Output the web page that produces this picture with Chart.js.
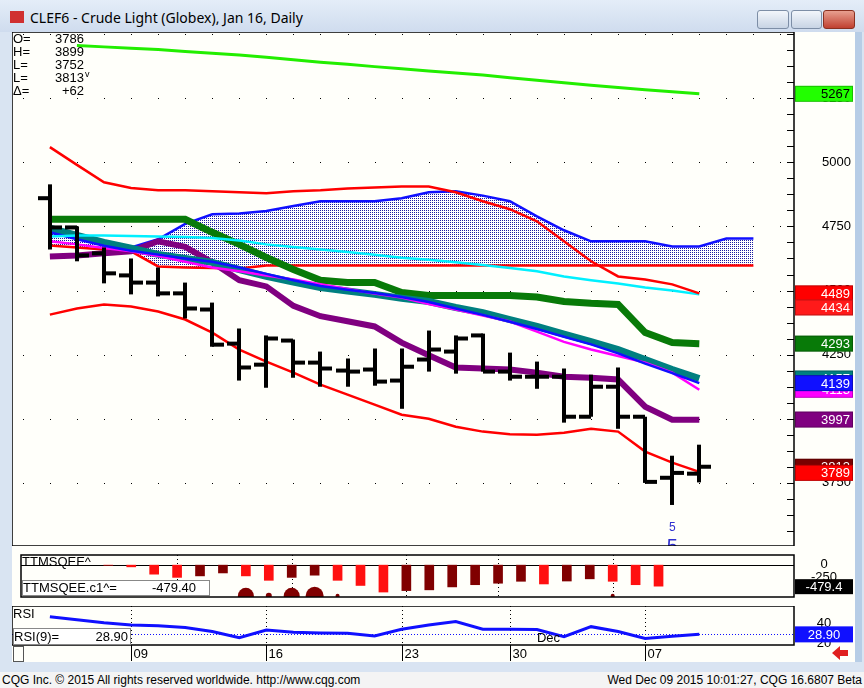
<!DOCTYPE html>
<html>
<head>
<meta charset="utf-8">
<script src="https://cdn.jsdelivr.net/npm/chart.js@4.4.0/dist/chart.umd.min.js"></script>
<style>
  body { margin:0; width:864px; height:688px; overflow:hidden; background:#d9e4f2; position:relative; font-family:"Liberation Sans", Arial, sans-serif; }
  #title { position:absolute; left:0; top:0; width:864px; height:32px; background:linear-gradient(#e4edf8,#cfdcee); }
  #title span { position:absolute; left:30px; top:8px; font:14px "Noto Sans", sans-serif; color:#000; }
  #icon { position:absolute; left:10px; top:11px; width:14px; height:12px; background:#d03030; }
  .btn { position:absolute; top:10px; height:17px; border:1px solid #7d8ea6; border-radius:3px; background:linear-gradient(#f2f6fb,#c8d4e4); }
  #close { background:linear-gradient(#e8a090,#c04030); border-color:#8a3020; }
  .panel { position:absolute; left:12px; background:#fffffa; }
  #scroll { position:absolute; left:855px; top:32px; width:7px; height:630px; background:#b7cde6; }
  #footer { position:absolute; left:0; top:672px; width:864px; height:16px; background:#f4f4f4; font:12px "Liberation Sans", Arial, sans-serif; }
  #footer .l { position:absolute; left:2px; top:1px; }
  #footer .r { position:absolute; right:2px; top:1px; }
</style>
</head>
<body>
<div id="title"><div id="icon"></div><span>CLEF6 - Crude Light (Globex), Jan 16, Daily</span>
  <div class="btn" style="left:757px;width:30px"></div>
  <div class="btn" style="left:791px;width:29px"></div>
  <div class="btn" id="close" style="left:823px;width:30px"></div>
</div>
<div class="panel" style="top:32px;width:843px;height:514px"><canvas id="mainChart"></canvas></div>
<div class="panel" style="top:546px;width:843px;height:60px"><canvas id="sqzChart"></canvas></div>
<div class="panel" style="top:606px;width:843px;height:56px"><canvas id="rsiChart"></canvas></div>
<div id="scroll"></div>
<div id="footer"><span class="l">CQG Inc. © 2015 All rights reserved worldwide. http://www.cqg.com</span><span class="r">Wed Dec 09 2015 10:01:27, CQG 16.6807 Beta</span></div>
<script>
// OHLC bars, Nov 4 - Dec 9
const opens  = [4860,4746,4645,4559,4531,4489,4426,4293,4211,4305,4219,4188,4192,4149,4231,4262,4325,4184,4164,4164,4008,4125,4008,3770,3786];
const highs  = [4914,4750,4668,4625,4590,4531,4453,4352,4325,4309,4262,4235,4274,4274,4344,4325,4332,4258,4223,4196,4172,4200,4008,3856,3899];
const lows   = [4660,4614,4528,4485,4477,4391,4281,4149,4121,4160,4125,4125,4129,4039,4184,4176,4184,4149,4117,3985,4008,3961,3750,3664,3752];
const closes = [4746,4637,4567,4531,4489,4430,4289,4200,4313,4219,4196,4184,4145,4203,4270,4313,4184,4164,4164,4008,4125,4008,3754,3789,3813];

const dateLabels = ['09','16','23','30','07'];
const dateIdx    = [3, 8, 13, 17, 22];

// studies
const greenLong  = [null,5455,5450,5445,5440,5432,5425,5418,5410,5400,5390,5382,5373,5365,5356,5348,5340,5330,5320,5310,5300,5292,5283,5275,5267];
const bandUpper  = [5059,4990,4922,4900,4891,4891,4887,4883,4879,4887,4891,4898,4902,4906,4906,4883,4848,4817,4770,4692,4614,4555,4543,4524,4489];
const bandLower  = [4406,4430,4446,4438,4418,4387,4336,4270,4223,4180,4133,4094,4055,4016,4000,3969,3950,3940,3938,3946,3961,3950,3872,3829,3793];
const cloudTop   = [4727,4705,4685,4668,4700,4760,4797,4800,4810,4830,4848,4848,4848,4860,4883,4887,4870,4848,4789,4735,4692,4692,4692,4672,4672,4703,4703];
const cloudBase  = [4676,4668,4660,4653,4594,4590,4588,4586,4598,4598,4598,4598,4598,4598,4598,4598,4598,4598,4598,4598,4598,4598,4598,4598,4598,4598,4598];
const cyanLine   = [4711,4715,4715,4713,4711,4709,4705,4695,4680,4670,4660,4650,4640,4628,4620,4610,4600,4588,4575,4555,4540,4527,4512,4500,4485];
const greenThick = [4778,4778,4778,4778,4778,4778,4727,4680,4629,4582,4540,4531,4531,4492,4481,4481,4481,4481,4475,4457,4450,4446,4336,4297,4293];
const tealThick  = [4743,4715,4688,4665,4641,4625,4610,4582,4555,4533,4512,4498,4485,4470,4457,4434,4414,4387,4360,4330,4301,4270,4231,4192,4157];
const blueThin   = [4727,4700,4675,4655,4640,4625,4612,4590,4565,4540,4518,4503,4490,4475,4455,4430,4405,4378,4350,4320,4290,4255,4215,4178,4139];
const magenta    = [4692,4680,4666,4653,4635,4612,4590,4575,4559,4543,4525,4506,4488,4473,4447,4426,4403,4379,4340,4300,4270,4245,4219,4180,4113];
const purple     = [4633,4637,4645,4653,4692,4670,4610,4540,4516,4440,4400,4380,4360,4297,4248,4200,4196,4192,4180,4164,4160,4153,4047,3996,3996];

// right axis value boxes
const markValues = [5267,4489,4434,4293,4157,4113,4139,3997,3813,3789];
const markColors = ['#22ff00','#ff0000','#ff1a1a','#087a08','#008080','#ff00ff','#1010ff','#800080','#7a0000','#ff0000'];

// squeeze histogram
const sqzValues = [0,-39,-206,-279,-245,-178,-245,-346,-279,-229,-346,-463,-613,-580,-563,-496,-446,-412,-368,-429,-362,-312,-368,-446,-479];
const sqzDark   = [0,0,0,0,1,1,0,0,1,1,0,0,0,1,1,1,1,1,1,0,1,1,0,0,0];
const sqzDotIdx = [6,7,8,9,10,22];
const sqzDotSize= [8,3,8,9,2,2];

// RSI(9)
const rsiValues = [46.2,43.3,40.4,38.2,37.5,35.7,31.7,25.6,33.2,31.0,30.3,29.9,27.4,33.9,38.2,41.5,33.9,33.9,33.6,26.6,36.5,31.7,24.8,27.0,28.9];

const X_MIN = -1.4, X_MAX = 27.5;
const pts = arr => arr.map((v, i) => ({x: i, y: v}));
const FONT = '"Liberation Sans", Arial, sans-serif';

const xHidden = { type:'linear', min:X_MIN, max:X_MAX, display:false };
const rightAxis = (min, max, w) => ({
  position:'right', min:min, max:max,
  grid:{ display:false }, border:{ display:false },
  ticks:{ display:false },
  afterFit: s => { s.width = w; }
});

function line(data, color, width, order) {
  return { type:'line', data:pts(data), borderColor:color, borderWidth:width, pointRadius:0, tension:0, order:order, spanGaps:false };
}

function makePattern() {
  const c = document.createElement('canvas'); c.width = 2; c.height = 2;
  const g = c.getContext('2d');
  g.fillStyle = '#ffffff'; g.fillRect(0,0,2,2);
  g.fillStyle = '#1a1aa0'; g.fillRect(0,0,1,1);
  return g.createPattern(c, 'repeat');
}

// draws grid dots, OHLC bars, labels and value boxes
const mainDecor = {
  id:'mainDecor',
  beforeDatasetsDraw(chart) {
    const {ctx, chartArea:a, scales:{x, y}} = chart;
    ctx.save();
    ctx.fillStyle = '#000';
    for (let v = 3500; v <= 5500; v += 250) {
      const py = Math.round(y.getPixelForValue(v));
      for (let i = -1; i <= 27; i++) {
        const px = Math.round(x.getPixelForValue(i));
        if (px > a.left && px < a.right) ctx.fillRect(px, py, 1, 1);
      }
    }
    ctx.restore();
  },
  afterDatasetsDraw(chart) {
    const {ctx, chartArea:a, scales:{x, y}} = chart;
    ctx.save();
    ctx.fillStyle = '#000';
    for (let i = 0; i < opens.length; i++) {
      const px = Math.round(x.getPixelForValue(i));
      const hy = y.getPixelForValue(highs[i]), ly = y.getPixelForValue(lows[i]);
      ctx.fillRect(px - 2, hy, 4, ly - hy);
      ctx.fillRect(px - 12, y.getPixelForValue(opens[i]) - 2, 12, 4);
      ctx.fillRect(px, y.getPixelForValue(closes[i]) - 2, 12, 4);
    }
    // study markers
    ctx.fillStyle = '#3030d0';
    ctx.textAlign = 'center';
    ctx.font = '12px ' + FONT;
    const mx = x.getPixelForValue(23);
    ctx.fillText('5', mx, a.bottom - 15);
    ctx.font = '20px ' + FONT;
    ctx.fillText('5', mx, a.bottom + 7);
    // frame
    ctx.strokeStyle = '#000'; ctx.lineWidth = 1.5;
    ctx.strokeRect(a.left, a.top, a.right - a.left, a.bottom - a.top);
    // right axis small ticks and labels
    ctx.lineWidth = 1;
    for (let v = 3500; v <= 5500; v += 62.5) {
      const py = Math.round(y.getPixelForValue(v)) + 0.5;
      ctx.beginPath(); ctx.moveTo(a.right - 7, py); ctx.lineTo(a.right, py); ctx.stroke();
    }
    ctx.fillStyle = '#000'; ctx.textAlign = 'right'; ctx.textBaseline = 'middle';
    ctx.font = '13px ' + FONT;
    for (let v = 3750; v <= 5250; v += 250) ctx.fillText(String(v), a.right + 57, y.getPixelForValue(v));
    // value boxes
    for (let k = 0; k < markValues.length; k++) {
      const py = y.getPixelForValue(markValues[k]);
      ctx.fillStyle = markColors[k];
      ctx.fillRect(a.right + 1, py - 8, 58, 16);
      ctx.strokeStyle = 'rgba(0,0,0,0.25)'; ctx.strokeRect(a.right + 1.5, py - 7.5, 57, 15);
      ctx.fillStyle = markColors[k] === '#22ff00' ? '#000' : '#fff';
      ctx.fillText(String(markValues[k]), a.right + 56, py + 1);
    }
    // info text
    ctx.fillStyle = '#000'; ctx.font = '13px ' + FONT; ctx.textBaseline = 'middle';
    const info = [['O=', '3786'], ['H=', '3899'], ['L=', '3752'], ['L=', '3813'], ['Δ=', '+62']];
    info.forEach((r, k) => {
      const py = a.top + 7 + k * 13;
      ctx.textAlign = 'left'; ctx.fillText(r[0], a.left + 1, py);
      ctx.textAlign = 'right'; ctx.fillText(r[1], a.left + 72, py);
    });
    ctx.font = '9px ' + FONT; ctx.textAlign = 'left';
    ctx.fillText('v', a.left + 73, a.top + 43);
    ctx.restore();
  }
};

new Chart(document.getElementById('mainChart'), {
  data: {
    datasets: [
      { type:'line', data:pts(cloudTop), borderColor:'#1010ff', borderWidth:2.5, pointRadius:0, fill:'+1', backgroundColor:makePattern(), order:20 },
      line(cloudBase, '#ff0000', 2.5, 19),
      line(greenLong, '#22ee00', 3, 5),
      line(bandUpper, '#ff0000', 2.5, 6),
      line(bandLower, '#ff0000', 2.5, 6),
      line(cyanLine, '#00f0ff', 2.5, 7),
      line(greenThick, '#087a08', 7, 10),
      line(tealThick, '#008080', 7, 9),
      line(blueThin, '#1010ff', 2.5, 8),
      line(magenta, '#ff00ff', 2.5, 8),
      line(purple, '#800080', 6, 9)
    ]
  },
  options: {
    animation:false, responsive:true, maintainAspectRatio:false,
    layout:{ padding:0 },
    plugins:{ legend:{display:false}, tooltip:{enabled:false} },
    scales:{ x:xHidden, y:rightAxis(3504, 5508, 61) }
  },
  plugins:[mainDecor]
});

const dateLines = (chart) => {
  const {ctx, chartArea:a, scales:{x}} = chart;
  ctx.save();
  ctx.strokeStyle = '#000'; ctx.lineWidth = 1; ctx.setLineDash([1, 3]);
  dateIdx.forEach(i => {
    const px = Math.round(x.getPixelForValue(i)) + 0.5;
    ctx.beginPath(); ctx.moveTo(px, a.top); ctx.lineTo(px, a.bottom); ctx.stroke();
  });
  ctx.restore();
};

new Chart(document.getElementById('sqzChart'), {
  data: {
    datasets: [
      { type:'bar', data:pts(sqzValues), backgroundColor:sqzDark.map(d => d ? '#800000' : '#ff1010'), barThickness:9, order:2 },
      { type:'scatter', data:sqzDotIdx.map(i => ({x:i, y:-700})), pointRadius:sqzDotSize, backgroundColor:'#800000', borderWidth:0, order:1 }
    ]
  },
  options: {
    animation:false, responsive:true, maintainAspectRatio:false,
    layout:{ padding:0 },
    plugins:{ legend:{display:false}, tooltip:{enabled:false} },
    scales:{ x:xHidden, y:rightAxis(-726, 231, 61) }
  },
  plugins:[{
    id:'sqzDecor',
    beforeDatasetsDraw(chart) {
      dateLines(chart);
      const {ctx, chartArea:a, scales:{y}} = chart;
      ctx.save();
      const zy = Math.round(y.getPixelForValue(0)) + 0.5;
      ctx.strokeStyle = '#000'; ctx.lineWidth = 1;
      ctx.beginPath(); ctx.moveTo(a.left, zy); ctx.lineTo(a.right, zy); ctx.stroke();
      ctx.restore();
    },
    afterDatasetsDraw(chart) {
      const {ctx, chartArea:a, scales:{y}} = chart;
      ctx.save();
      ctx.strokeStyle = '#000'; ctx.lineWidth = 1.5;
      ctx.strokeRect(a.left, a.top, a.right - a.left, a.bottom - a.top);
      ctx.font = '13px ' + FONT; ctx.textBaseline = 'middle'; ctx.fillStyle = '#000';
      ctx.textAlign = 'left'; ctx.fillText('TTMSQEE^', a.left + 1, a.top + 7);
      ctx.fillStyle = '#fff'; ctx.fillRect(a.left + 1, a.bottom - 17, 188, 16);
      ctx.strokeStyle = '#888'; ctx.lineWidth = 1; ctx.strokeRect(a.left + 1.5, a.bottom - 16.5, 187, 15);
      ctx.fillStyle = '#000';
      ctx.fillText('TTMSQEE.c1^=', a.left + 2, a.bottom - 9);
      ctx.textAlign = 'right'; ctx.fillText('-479.40', a.left + 175, a.bottom - 9);
      ctx.textAlign = 'center';
      ctx.fillText('0', a.right + 30, y.getPixelForValue(0) - 1);
      ctx.fillText('-250', a.right + 30, y.getPixelForValue(-250) + 1);
      ctx.fillRect(a.right + 1, y.getPixelForValue(-479.4) - 7, 58, 15);
      ctx.fillStyle = '#fff'; ctx.fillText('-479.4', a.right + 30, y.getPixelForValue(-479.4) + 1);
      ctx.restore();
    }
  }]
});

new Chart(document.getElementById('rsiChart'), {
  data: {
    datasets: [
      { type:'line', data:pts(rsiValues), borderColor:'#1010ff', borderWidth:3, pointRadius:0, tension:0 }
    ]
  },
  options: {
    animation:false, responsive:true, maintainAspectRatio:false,
    layout:{ padding:{ bottom:17 } },
    plugins:{ legend:{display:false}, tooltip:{enabled:false} },
    scales:{ x:xHidden, y:rightAxis(18.4, 56.9, 61) }
  },
  plugins:[{
    id:'rsiDecor',
    beforeDatasetsDraw(chart) {
      dateLines(chart);
      const {ctx, chartArea:a, scales:{y}} = chart;
      ctx.save();
      ctx.strokeStyle = '#1010ff'; ctx.lineWidth = 1; ctx.setLineDash([1, 2]);
      const py = Math.round(y.getPixelForValue(28.9)) + 0.5;
      ctx.beginPath(); ctx.moveTo(a.left, py); ctx.lineTo(a.right, py); ctx.stroke();
      ctx.restore();
    },
    afterDatasetsDraw(chart) {
      const {ctx, chartArea:a, scales:{x, y}} = chart;
      ctx.save();
      ctx.strokeStyle = '#000'; ctx.lineWidth = 1.5;
      ctx.strokeRect(a.left, a.top, a.right - a.left, a.bottom - a.top);
      ctx.font = '13px ' + FONT; ctx.textBaseline = 'middle'; ctx.fillStyle = '#000';
      ctx.textAlign = 'left'; ctx.fillText('RSI', a.left + 1, a.top + 8);
      ctx.fillStyle = '#fff'; ctx.fillRect(a.left + 1, a.bottom - 17, 118, 17);
      ctx.strokeStyle = '#888'; ctx.lineWidth = 1; ctx.strokeRect(a.left + 1.5, a.bottom - 16.5, 117, 16);
      ctx.fillStyle = '#000';
      ctx.fillText('RSI(9)=', a.left + 2, a.bottom - 8);
      ctx.textAlign = 'right'; ctx.fillText(rsiValues[24].toFixed(2), a.left + 116, a.bottom - 8);
      ctx.textAlign = 'left';
      ctx.fillText('Dec', x.getPixelForValue(18), a.bottom - 7);
      ctx.textAlign = 'center';
      ctx.fillText('40', a.right + 30, y.getPixelForValue(40));
      ctx.fillText('20', a.right + 30, y.getPixelForValue(20));
      ctx.fillStyle = '#1010ff'; ctx.fillRect(a.right + 1, y.getPixelForValue(28.9) - 8, 58, 16);
      ctx.fillStyle = '#fff'; ctx.fillText('28.90', a.right + 30, y.getPixelForValue(28.9) + 1);
      // date axis strip
      ctx.fillStyle = '#000'; ctx.textAlign = 'left'; ctx.strokeStyle = '#000'; ctx.lineWidth = 1;
      dateIdx.forEach((i, k) => {
        const px = Math.round(x.getPixelForValue(i)) + 0.5;
        ctx.beginPath(); ctx.moveTo(px, a.bottom); ctx.lineTo(px, a.bottom + 16); ctx.stroke();
        ctx.fillText(dateLabels[k], px + 2, a.bottom + 9);
      });
      ctx.strokeStyle = '#555'; ctx.strokeRect(1.5, a.bottom + 1.5, 10, 15);
      ctx.fillStyle = '#e02020';
      ctx.beginPath();
      const ax = a.right + 46, ay = a.bottom + 8;
      ctx.moveTo(ax - 8, ay); ctx.lineTo(ax, ay - 7); ctx.lineTo(ax, ay - 3); ctx.lineTo(ax + 8, ay - 3);
      ctx.lineTo(ax + 8, ay + 3); ctx.lineTo(ax, ay + 3); ctx.lineTo(ax, ay + 7); ctx.closePath(); ctx.fill();
      ctx.restore();
    }
  }]
});
</script>
</body>
</html>
